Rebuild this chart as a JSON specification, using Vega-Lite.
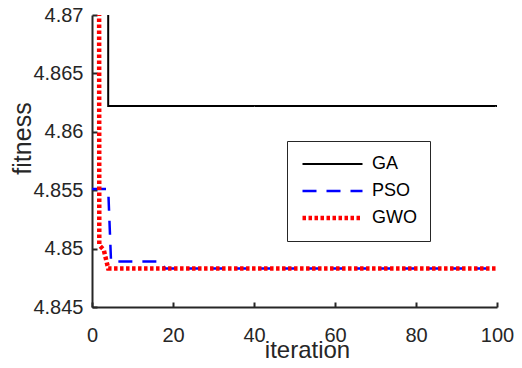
{
  "$schema": "https://vega.github.io/schema/vega-lite/v6.json",
  "width": 405,
  "height": 292,
  "autosize": {"type": "none"},
  "padding": {"left": 92, "top": 15, "right": 25, "bottom": 61},
  "background": "white",
  "config": {
    "view": {"stroke": null},
    "font": "Liberation Sans",
    "axis": {
      "domainColor": "#262626",
      "domainWidth": 2,
      "tickColor": "#262626",
      "tickWidth": 2,
      "tickSize": -5,
      "labelColor": "#262626",
      "titleColor": "#262626",
      "labelFont": "Liberation Sans",
      "titleFont": "Liberation Sans",
      "labelFontSize": 20,
      "titleFontWeight": "normal",
      "labelFlush": false,
      "labelOverlap": false,
      "grid": false
    },
    "legend": {
      "labelFont": "Liberation Sans",
      "labelFontSize": 18,
      "labelColor": "#000000"
    }
  },
  "data": {
    "values": [
      {"algo": "GA", "step": 1, "iteration": 1, "fitness": 4.9},
      {"algo": "GA", "step": 2, "iteration": 4, "fitness": 4.9},
      {"algo": "GA", "step": 3, "iteration": 4, "fitness": 4.8622},
      {"algo": "GA", "step": 4, "iteration": 100, "fitness": 4.8622},
      {"algo": "PSO", "step": 1, "iteration": 0, "fitness": 4.8551},
      {"algo": "PSO", "step": 2, "iteration": 4, "fitness": 4.8551},
      {"algo": "PSO", "step": 3, "iteration": 4.7, "fitness": 4.8489},
      {"algo": "PSO", "step": 4, "iteration": 17, "fitness": 4.8489},
      {"algo": "PSO", "step": 5, "iteration": 18, "fitness": 4.8483},
      {"algo": "PSO", "step": 6, "iteration": 100, "fitness": 4.8483},
      {"algo": "GWO", "step": 1, "iteration": 1.7, "fitness": 4.9},
      {"algo": "GWO", "step": 2, "iteration": 1.8, "fitness": 4.8503},
      {"algo": "GWO", "step": 3, "iteration": 2.9, "fitness": 4.8499},
      {"algo": "GWO", "step": 4, "iteration": 4, "fitness": 4.8483},
      {"algo": "GWO", "step": 5, "iteration": 100, "fitness": 4.8483}
    ]
  },
  "mark": {"type": "line", "clip": true},
  "encoding": {
    "x": {
      "field": "iteration",
      "type": "quantitative",
      "scale": {"domain": [0, 100], "nice": false},
      "axis": {
        "values": [0, 20, 40, 60, 80, 100],
        "labelPadding": 23,
        "title": "iteration",
        "titleFontSize": 24,
        "titleX": 215,
        "titleY": 50,
        "titleAlign": "center",
        "titleBaseline": "alphabetic"
      }
    },
    "y": {
      "field": "fitness",
      "type": "quantitative",
      "scale": {"domain": [4.845, 4.87], "nice": false, "zero": false},
      "axis": {
        "values": [4.845, 4.85, 4.855, 4.86, 4.865, 4.87],
        "format": "~g",
        "labelPadding": 14,
        "title": "fitness",
        "titleFontSize": 25,
        "titleX": -70,
        "titleY": 123,
        "titleAngle": -90,
        "titleAlign": "center",
        "titleBaseline": "middle"
      }
    },
    "order": {"field": "step", "type": "quantitative"},
    "color": {
      "field": "algo",
      "type": "nominal",
      "scale": {"domain": ["GA", "PSO", "GWO"], "range": ["#000000", "#0000ff", "#ff0000"]},
      "legend": {
        "title": null,
        "orient": "none",
        "legendX": 195,
        "legendY": 126,
        "symbolType": "stroke",
        "symbolSize": 3600,
        "clipHeight": 20,
        "strokeColor": "#262626",
        "fillColor": "white",
        "padding": 13,
        "rowPadding": 7,
        "labelOffset": 7
      }
    },
    "strokeDash": {
      "field": "algo",
      "type": "nominal",
      "scale": {"domain": ["GA", "PSO", "GWO"], "range": [[1, 0], [14, 10], [3.5, 2.5]]},
      "legend": null
    },
    "strokeWidth": {
      "field": "algo",
      "type": "nominal",
      "scale": {"type": "ordinal", "domain": ["GA", "PSO", "GWO"], "range": [2, 2.5, 4.5]},
      "legend": null
    }
  }
}
